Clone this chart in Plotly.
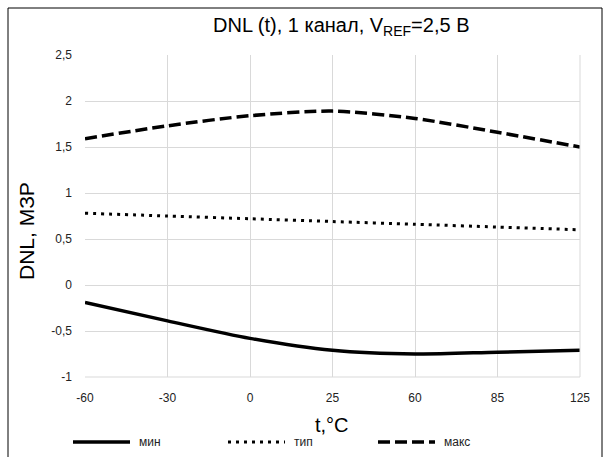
import plotly.graph_objects as go

temps = ["-60", "-30", "0", "25", "60", "85", "125"]
dnl_min = [-0.19, -0.39, -0.58, -0.71, -0.75, -0.73, -0.71]
dnl_typ = [0.78, 0.75, 0.72, 0.69, 0.66, 0.63, 0.60]
dnl_max = [1.59, 1.73, 1.84, 1.89, 1.81, 1.66, 1.50]
y_ticks = [-1, -0.5, 0, 0.5, 1, 1.5, 2, 2.5]
y_labels = ["-1", "-0,5", "0", "0,5", "1", "1,5", "2", "2,5"]
series_names = ["мин", "тип", "макс"]

W, H = 605, 457
L, R, T, B = 85, 25, 55, 80
PW, PH = W - L - R, H - T - B


def px(xp):
    return (xp - L) / PW


def py(yp):
    return (H - B - yp) / PH


styles = [
    dict(color="black", width=3.5),
    dict(color="black", width=3, dash="3px,5px"),
    dict(color="black", width=3.5, dash="12px,5px"),
]

fig = go.Figure()
for name, vals, st in zip(series_names, [dnl_min, dnl_typ, dnl_max], styles):
    fig.add_trace(go.Scatter(x=temps, y=vals, name=name, mode="lines", showlegend=False,
                             line=dict(shape="spline", smoothing=0.8, **st)))

fig.update_layout(
    width=W, height=H,
    margin=dict(l=L, r=R, t=T, b=B, autoexpand=False),
    paper_bgcolor="white", plot_bgcolor="white",
    font=dict(family="Liberation Sans, Arial", color="black"),
    showlegend=False,
    xaxis=dict(type="category", range=[0, 6], showgrid=True, gridcolor="#d9d9d9", gridwidth=1,
               zeroline=False, showline=False, ticks="", ticklabelstandoff=12,
               tickfont=dict(size=12, color="#222")),
    yaxis=dict(range=[-1, 2.5], tickvals=y_ticks, ticktext=y_labels, showgrid=True,
               gridcolor="#d9d9d9", gridwidth=1, zeroline=False, showline=False, ticks="",
               ticklabelstandoff=12, tickfont=dict(size=12, color="#222")),
)

# chart border (cropped at right and bottom in the reference)
fig.add_shape(type="rect", xref="paper", yref="paper", x0=px(8), x1=px(602), y0=py(470), y1=py(8),
              line=dict(color="black", width=1), fillcolor="rgba(0,0,0,0)", layer="below")
fig.add_shape(type="line", xref="paper", yref="paper", x0=1, x1=1, y0=0, y1=1,
              line=dict(color="#d9d9d9", width=1))
fig.add_shape(type="line", xref="paper", yref="paper", x0=0, x1=1, y0=0, y1=0,
              line=dict(color="#d9d9d9", width=1))

# title and axis titles
fig.add_annotation(xref="paper", yref="paper", x=px(341), y=py(26), showarrow=False,
                   text="DNL (t), 1 канал, V<sub>REF</sub>=2,5 В", font=dict(size=20, color="black"),
                   xanchor="center", yanchor="middle")
fig.add_annotation(xref="paper", yref="paper", x=px(332), y=py(425), showarrow=False,
                   text="t,°C", font=dict(size=20, color="black"), xanchor="center", yanchor="middle")
fig.add_annotation(xref="paper", yref="paper", x=px(27), y=py(231), showarrow=False, textangle=-90,
                   text="DNL, МЗР", font=dict(size=21, color="black"), xanchor="center", yanchor="middle")

# legend
leg_x = [73, 228, 378]
for name, st, x0 in zip(series_names, styles, leg_x):
    fig.add_shape(type="line", xref="paper", yref="paper", x0=px(x0), x1=px(x0 + 57),
                  y0=py(442), y1=py(442), line=st)
    fig.add_annotation(xref="paper", yref="paper", x=px(x0 + 64), y=py(442), showarrow=False,
                       text=name, font=dict(size=12, color="#222"), xanchor="left", yanchor="middle")

fig.write_html("out.html")
